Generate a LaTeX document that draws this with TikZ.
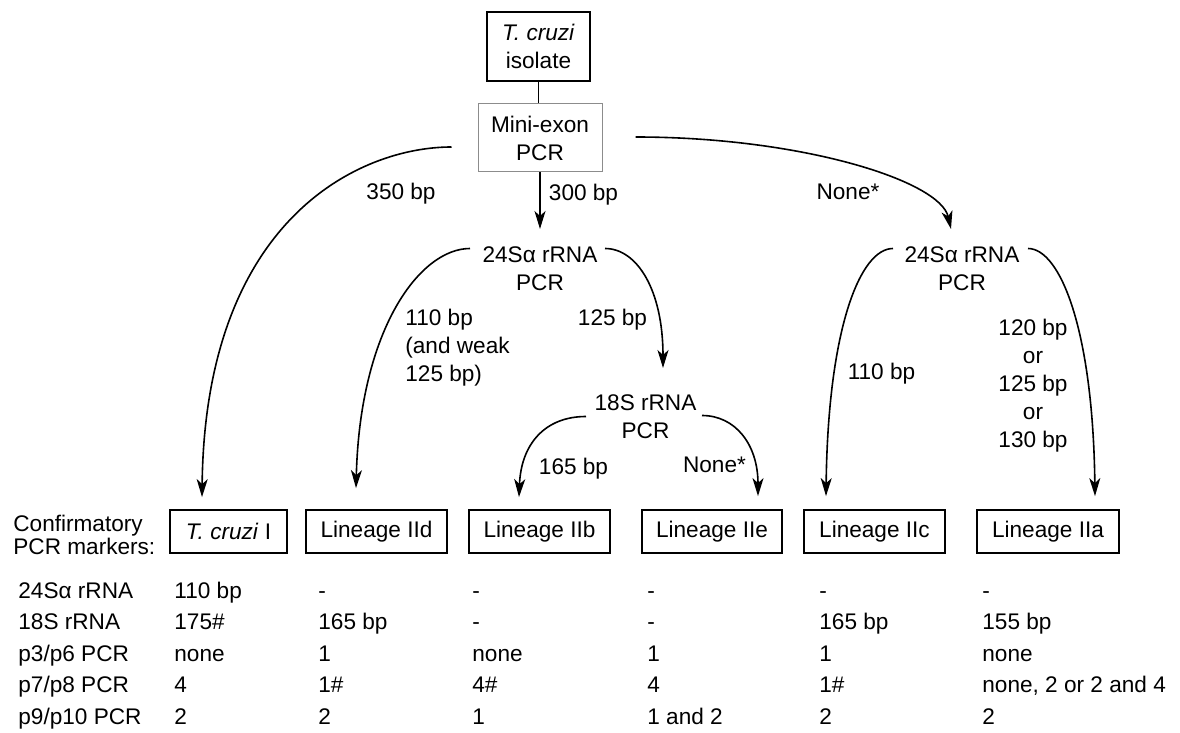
\documentclass[tikz,border=0pt]{standalone}
\usepackage{fontspec}
\setmainfont{Liberation Sans}
\usetikzlibrary{arrows.meta,calc}
\begin{document}
\begin{tikzpicture}[x=0.5pt,y=-0.5pt,
  font=\fontsize{11.3}{14}\selectfont,
  box/.style={draw, line width=0.9pt, minimum height=21.5pt, inner sep=0pt},
  lab/.style={inner sep=0pt, align=center},
  cell/.style={anchor=base west, inner sep=0pt},
  conn/.style={line width=0.8pt, -{Stealth[length=9pt,width=5.5pt,inset=2.5pt]}}]
\path[use as bounding box] (0,0) rectangle (1180,733);

% top nodes
\node[draw, line width=1pt, minimum width=51.5pt, minimum height=34.5pt, inner sep=0pt, align=center] (iso) at (538.5,46.5) {\textit{T. cruzi}\\isolate};
\node[draw=black!45, line width=0.5pt, minimum width=62pt, minimum height=34pt, inner sep=0pt, align=center] (mini) at (540,138) {Mini-exon\\PCR};
\node[lab] (m24) at (540,268.5) {24Sα rRNA\\PCR};
\node[lab] (r24) at (962,268.5) {24Sα rRNA\\PCR};
\node[lab] (s18) at (645.5,416.5) {18S rRNA\\PCR};

% lineage boxes
\node[box, minimum width=58.5pt] (tc1) at (228.5,531.5) {\textit{T. cruzi} I};
\node[box, minimum width=70.5pt] (l2d) at (376.5,531.5) {Lineage IId};
\node[box, minimum width=70.5pt] (l2b) at (539.5,531.5) {Lineage IIb};
\node[box, minimum width=70pt] (l2e) at (712,531.5) {Lineage IIe};
\node[box, minimum width=70.5pt] (l2c) at (874.5,531.5) {Lineage IIc};
\node[box, minimum width=71pt] (l2a) at (1048,531.5) {Lineage IIa};

% edge labels
\node[lab] (l350) at (401,194) {350 bp};
\node[lab] (l300) at (583.5,195) {300 bp};
\node[lab] (ln1) at (848,192) {None*};
\node[lab, align=left, anchor=west] (l110a) at (405,348) {110 bp\\(and weak\\125 bp)};
\node[lab] (l125) at (612.5,320) {125 bp};
\node[lab] (l165) at (573.5,469) {165 bp};
\node[lab] (ln2) at (714.5,465) {None*};
\node[lab] (l110b) at (881.5,374) {110 bp};
\node[lab] (l120) at (1033,386) {120 bp\\or\\125 bp\\or\\130 bp};

% connectors
\draw[line width=0.8pt] (iso.south) -- (iso.south |- mini.north);

\coordinate (a1s) at ($(mini.west)+(-26,9)$);
\coordinate (a1e) at ($(tc1.north)+(-26.5,-12)$);
\draw[conn] (a1s) .. controls ($(a1s)+(-92,0)$) and ($(a1e)+(3,-278)$) .. (a1e);

\coordinate (a2e) at ($(m24.center)+(0,-39.5)$);
\draw[conn] (mini.south) -- (a2e);

\coordinate (a3s) at ($(mini.east)+(33,-1)$);
\coordinate (a3e) at ($(r24.center)+(-11,-39.5)$);
\draw[conn] (a3s) .. controls ($(a3s)+(165,0)$) and ($(a3e)+(-11,-48.5)$) .. (a3e);

\coordinate (a4s) at ($(m24.center)+(-70,-20)$);
\coordinate (a4e) at ($(l2d.north)+(-20.5,-21)$);
\draw[conn] (a4s) .. controls ($(a4s)+(-50,0)$) and ($(a4e)+(4,-159)$) .. (a4e);

\coordinate (a5s) at ($(m24.center)+(65,-20)$);
\coordinate (a5e) at ($(s18.center)+(17.5,-48.5)$);
\draw[conn] (a5s) .. controls ($(a5s)+(32,0)$) and ($(a5e)+(0,-78)$) .. (a5e);

\coordinate (a6s) at ($(s18.center)+(-59.5,0)$);
\coordinate (a6e) at ($(l2b.north)+(-20.5,-12)$);
\draw[conn] (a6s) .. controls ($(a6s)+(-41,0)$) and ($(a6e)+(2,-53)$) .. (a6e);

\coordinate (a7s) at ($(s18.center)+(56.5,-1)$);
\coordinate (a7e) at ($(l2e.north)+(46,-13)$);
\draw[conn] (a7s) .. controls ($(a7s)+(33,0)$) and ($(a7e)+(0,-52)$) .. (a7e);

\coordinate (a8s) at ($(r24.center)+(-69,-20)$);
\coordinate (a8e) at ($(l2c.north)+(-48.5,-13)$);
\draw[conn] (a8s) .. controls ($(a8s)+(-33,0)$) and ($(a8e)+(2,-167)$) .. (a8e);

\coordinate (a9s) at ($(r24.center)+(66,-20)$);
\coordinate (a9e) at ($(l2a.north)+(47,-13)$);
\draw[conn] (a9s) .. controls ($(a9s)+(32,0)$) and ($(a9e)+(-2,-167)$) .. (a9e);

% table
\node[lab, align=left, anchor=west] (conf) at (13,534.5) {Confirmatory\\[-2.5pt]PCR markers:};

\node[cell] (h1) at (18,598) {24Sα rRNA};
\node[cell] (h2) at (18,629.5) {18S rRNA};
\node[cell] (h3) at (18,661) {p3/p6 PCR};
\node[cell] (h4) at (18,692.5) {p7/p8 PCR};
\node[cell] (h5) at (18,724) {p9/p10 PCR};

\node[cell] (c11) at (174,598) {110 bp};
\node[cell] (c12) at (174,629.5) {175\#};
\node[cell] (c13) at (174,661) {none};
\node[cell] (c14) at (174,692.5) {4};
\node[cell] (c15) at (174,724) {2};

\node[cell] (c21) at (318,598) {-};
\node[cell] (c22) at (318,629.5) {165 bp};
\node[cell] (c23) at (318,661) {1};
\node[cell] (c24) at (318,692.5) {1\#};
\node[cell] (c25) at (318,724) {2};

\node[cell] (c31) at (472,598) {-};
\node[cell] (c32) at (472,629.5) {-};
\node[cell] (c33) at (472,661) {none};
\node[cell] (c34) at (472,692.5) {4\#};
\node[cell] (c35) at (472,724) {1};

\node[cell] (c41) at (647,598) {-};
\node[cell] (c42) at (647,629.5) {-};
\node[cell] (c43) at (647,661) {1};
\node[cell] (c44) at (647,692.5) {4};
\node[cell] (c45) at (647,724) {1 and 2};

\node[cell] (c51) at (819,598) {-};
\node[cell] (c52) at (819,629.5) {165 bp};
\node[cell] (c53) at (819,661) {1};
\node[cell] (c54) at (819,692.5) {1\#};
\node[cell] (c55) at (819,724) {2};

\node[cell] (c61) at (982,598) {-};
\node[cell] (c62) at (982,629.5) {155 bp};
\node[cell] (c63) at (982,661) {none};
\node[cell] (c64) at (982,692.5) {none, 2 or 2 and 4};
\node[cell] (c65) at (982,724) {2};
\end{tikzpicture}
\end{document}
